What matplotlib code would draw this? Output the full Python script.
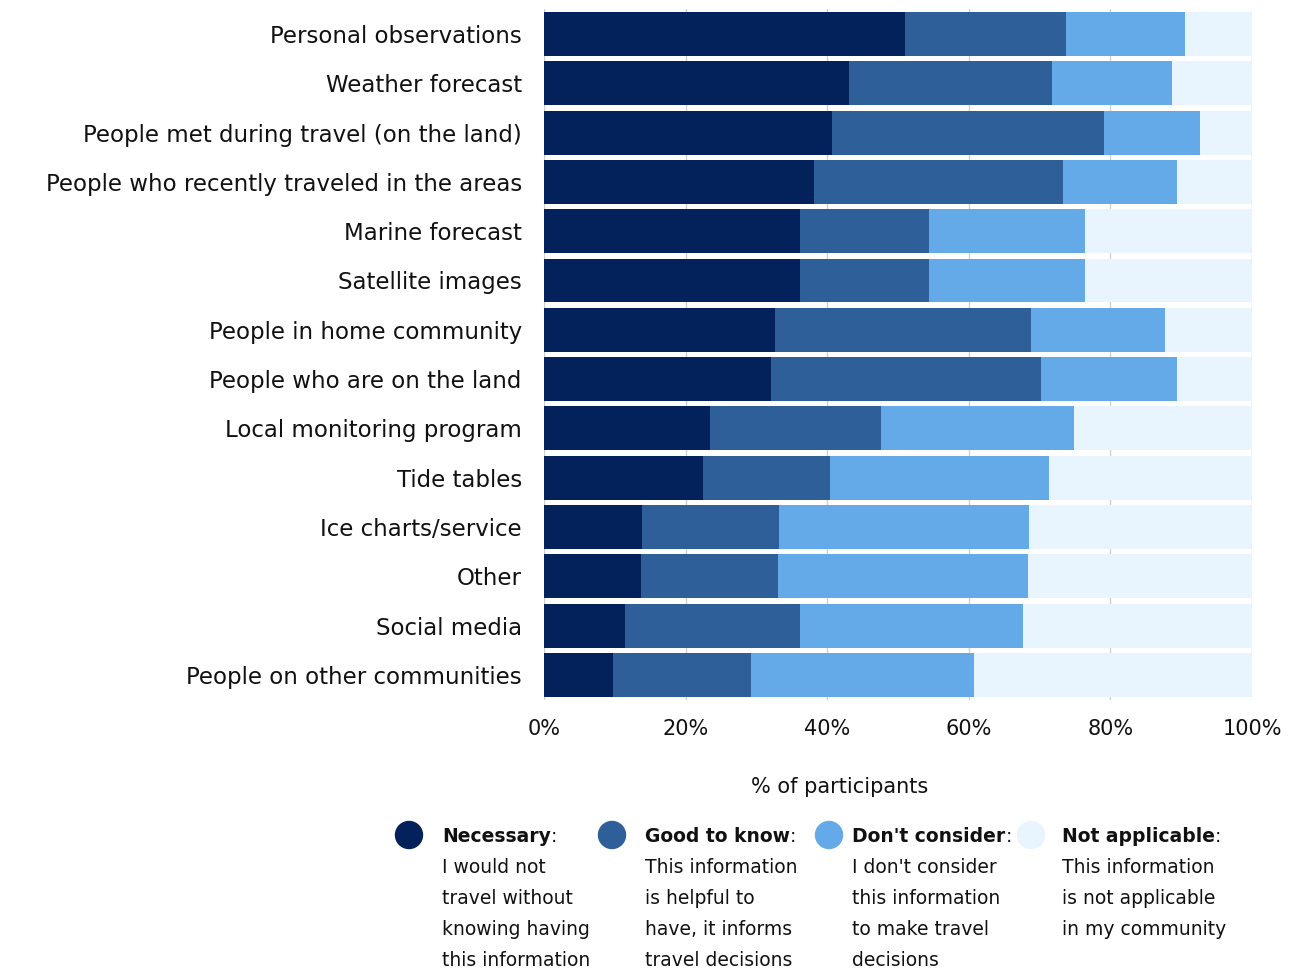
import matplotlib.pyplot as plt
from matplotlib.patches import Ellipse
import numpy as np

plt.rcParams['font.family'] = ['DejaVu Sans']

sources = ["Personal observations", "Weather forecast",
           "People met during travel (on the land)",
           "People who recently traveled in the areas", "Marine forecast",
           "Satellite images", "People in home community",
           "People who are on the land", "Local monitoring program",
           "Tide tables", "Ice charts/service", "Other", "Social media",
           "People on other communities"]

necessary = [51.0, 43.1, 40.7, 38.1, 36.2, 36.2, 32.6, 32.1, 23.4, 22.5, 13.8, 13.7, 11.4, 9.7]
good_to_know = [22.7, 28.7, 38.4, 35.2, 18.2, 18.2, 36.2, 38.1, 24.2, 17.9, 19.4, 19.4, 24.8, 19.5]
dont_consider = [16.8, 16.9, 13.6, 16.1, 22.0, 22.0, 18.9, 19.2, 27.3, 30.9, 35.3, 35.3, 31.5, 31.5]
not_applicable = [100 - a - b - c for a, b, c in zip(necessary, good_to_know, dont_consider)]

series = [necessary, good_to_know, dont_consider, not_applicable]
colors = ['#03225c', '#2e5f98', '#65aae8', '#e8f5fe']

legend_titles = ["Necessary", "Good to know", "Don't consider", "Not applicable"]
legend_texts = ["I would not\ntravel without\nknowing having\nthis information",
                "This information\nis helpful to\nhave, it informs\ntravel decisions",
                "I don't consider\nthis information\nto make travel\ndecisions",
                "This information\nis not applicable\nin my community"]

W, H = 1295, 969
fig = plt.figure(figsize=(W / 100, H / 100), dpi=100)
ax = fig.add_axes([544 / W, 0.278, 708 / W, 0.7124])

y = np.arange(len(sources))
left = np.zeros(len(sources))
for vals, col in zip(series, colors):
    ax.barh(y, vals, left=left, height=0.89, color=col, zorder=2)
    left += np.array(vals)

ax.set_ylim(len(sources) - 0.5, -0.5)
ax.set_xlim(0, 100)
ax.set_yticks(y)
ax.set_yticklabels(sources, fontsize=16.5, color='#111111')
ax.set_xticks(np.arange(0, 101, 20))
ax.set_xticklabels([f"{v}%" for v in range(0, 101, 20)], fontsize=15, color='#111111')
ax.tick_params(axis='y', length=0, pad=16)
ax.tick_params(axis='x', length=0, pad=14)
ax.grid(axis='x', color='#d0d0d0', linewidth=1, zorder=0)
for s in ax.spines.values():
    s.set_visible(False)

fig.text(840 / W, 1 - 787 / H, "% of participants", fontsize=15,
         ha='center', va='center', color='#111111')

# legend drawn by hand: dot, bold title with colon, description below
circle_x = [409, 612, 829, 1031]
text_x = [442, 645, 852, 1062]
for cx, tx, title, body, col in zip(circle_x, text_x, legend_titles, legend_texts, colors):
    fig.add_artist(Ellipse((cx / W, 1 - 835 / H), 27 / W, 27 / H,
                           transform=fig.transFigure, color=col))
    t = fig.text(tx / W, 1 - 837 / H, title, fontsize=13.5, fontweight='bold',
                 ha='left', va='center', color='#111111')
    ax.annotate(":", xy=(1, 0.5), xycoords=t, ha='left', va='center',
                fontsize=13.5, color='#111111', annotation_clip=False)
    fig.text(tx / W, 1 - 858 / H, body, fontsize=13.5, ha='left', va='top',
             linespacing=1.8, color='#111111')

fig.savefig("out.png", dpi=100)
